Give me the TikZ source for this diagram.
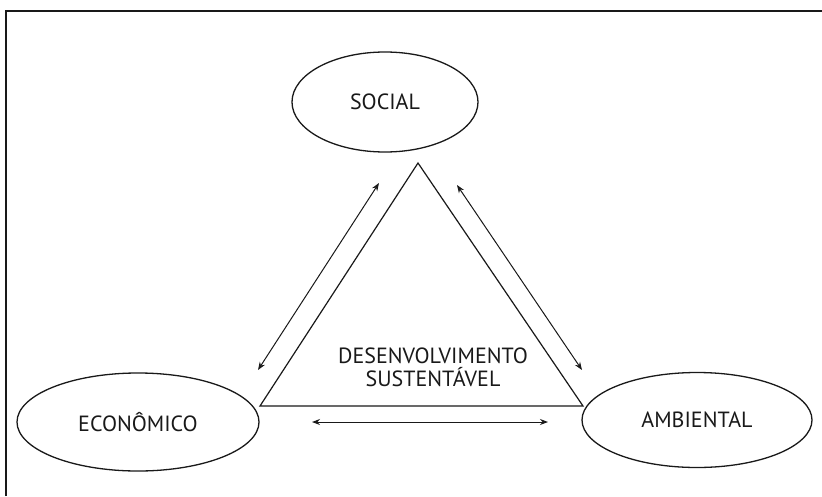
\documentclass[tikz,border=0pt]{standalone}
\usepackage{fontspec}
\setmainfont{PT Sans}
\usetikzlibrary{shapes.geometric,arrows.meta}
\tikzset{
  pillar/.style={draw=black!90, line width=1.3pt, ellipse, inner sep=0pt, font=\fontsize{22}{24}\selectfont, text=black!90},
  tri/.style={draw=black!90, line width=1.2pt},
  dbl/.style={draw=black!90, line width=1.0pt, {Stealth[length=8pt,width=6pt]}-{Stealth[length=8pt,width=6pt]}},
  frameline/.style={draw=black!90, line width=1.4pt}
}
\begin{document}
\begin{tikzpicture}[x=1pt,y=-1pt]
\useasboundingbox (0,0) rectangle (822,496);
\fill[white] (0,0) rectangle (822,496);
% frame
\coordinate (fb) at (6,496);
\coordinate (fc) at (6,11);
\coordinate (fr) at (822,11);
\draw[frameline] (fb) -- (fc) -- (fr);
% ellipses
\node[pillar, minimum width=186pt, minimum height=100pt] (soc) at (385,102) {SOCIAL};
\node[pillar, minimum width=242pt, minimum height=98pt] (eco) at (138,422) {ECONÔMICO};
\node[pillar, minimum width=230pt, minimum height=95pt] (amb) at (697,420) {AMBIENTAL};
% triangle
\coordinate (ta) at (418,163);
\coordinate (tl) at (260,406);
\coordinate (tr) at (583,406);
\draw[tri] (ta) -- (tl) -- (tr) -- cycle;
\node[align=center, font=\fontsize{22}{23}\selectfont, text=black!90] (ds) at (433,367) {DESENVOLVIMENTO\\SUSTENTÁVEL};
% arrows
\coordinate (a1) at (379,183);
\coordinate (a2) at (258,370);
\coordinate (b1) at (457,185);
\coordinate (b2) at (582,370);
\coordinate (c1) at (312,422);
\coordinate (c2) at (548,422);
\draw[dbl] (a1) -- (a2);
\draw[dbl] (b1) -- (b2);
\draw[dbl] (c1) -- (c2);
\end{tikzpicture}
\end{document}
